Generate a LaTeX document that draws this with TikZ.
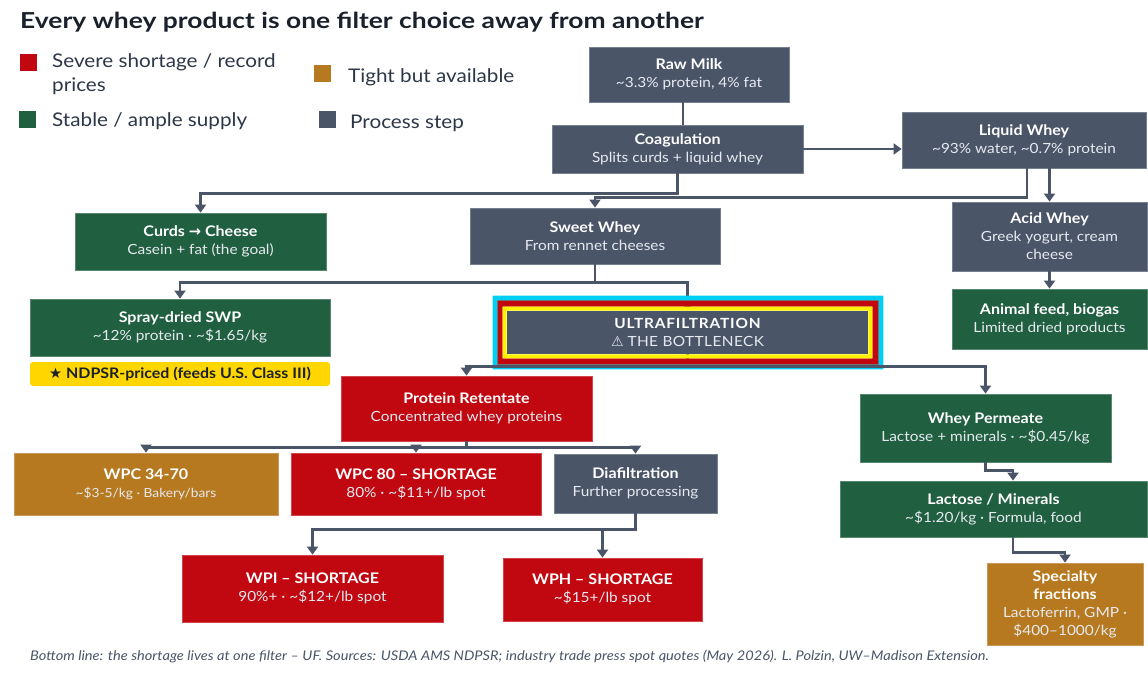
\documentclass[tikz,border=0pt]{standalone}
\usepackage{fontspec}
\setmainfont{Lato}[FakeStretch=1.1]
\newfontfamily\titlef{Lato}[FakeStretch=1.2]
\newfontfamily\symf{DejaVu Sans}
\usetikzlibrary{arrows.meta}
\definecolor{cproc}{HTML}{4A5568}
\definecolor{cgood}{HTML}{205F40}
\definecolor{cbad}{HTML}{C1070F}
\definecolor{ctight}{HTML}{B7791F}
\definecolor{cnote}{HTML}{FFD600}
\definecolor{ccyan}{HTML}{00CFF5}
\definecolor{cyel}{HTML}{FFF200}
\definecolor{cline}{HTML}{4A5568}
\definecolor{csub}{HTML}{E6EAF0}
\definecolor{ctitle}{HTML}{1A202C}
\definecolor{cleg}{HTML}{2D3748}
\definecolor{cfoot}{HTML}{4A5568}
\newcommand\tld{\textasciitilde}
\newcommand\bx[2]{{\fontsize{14.6}{18}\selectfont\bfseries\color{white}#1}\\#2}
\pgfdeclarelayer{under}
\pgfdeclarelayer{mid}
\pgfsetlayers{under,mid,main}
\tikzset{
  base/.style={rectangle, inner sep=0pt, align=center, text=csub,
    font=\fontsize{14}{18}\selectfont, line width=0.8pt},
  proc/.style={base, fill=cproc, draw=cproc!75!white},
  good/.style={base, fill=cgood, draw=cgood!75!white},
  bad/.style={base, fill=cbad, draw=cbad!75!white},
  tight/.style={base, fill=ctight, draw=ctight!75!white},
  note/.style={rectangle, rounded corners=3pt, inner sep=0pt, fill=cnote,
    text=ctitle, font=\fontsize{14.5}{18}\selectfont\bfseries},
  sq/.style={rectangle, inner sep=0pt, minimum size=17pt},
  legtxt/.style={anchor=west, align=left, inner sep=0pt, text=cleg, font=\fontsize{18.8}{24}\selectfont},
  conn/.style={draw=cline, line width=2.4pt},
  arr/.style={conn, -{Triangle[width=11pt,length=8pt]}},
}
\begin{document}
\begin{tikzpicture}[x=1pt,y=-1pt]
\useasboundingbox (0,0) rectangle (1148,676);
\begin{pgfonlayer}{under}
\fill[white] (0,0) rectangle (1148,676);
\end{pgfonlayer}

% title and legend
\node[anchor=west, inner sep=0pt, font=\fontsize{22}{26}\titlef\bfseries, text=ctitle] (title) at (20,22)
  {Every whey product is one filter choice away from another};
\node[sq, fill=cbad] (lg1) at (28.5,62.5) {};
\node[legtxt] (lt1) at (52,74) {Severe shortage / record\\prices};
\node[sq, fill=ctight] (lg2) at (322,73.5) {};
\node[legtxt] (lt2) at (348,77) {Tight but available};
\node[sq, fill=cgood] (lg3) at (27,120) {};
\node[legtxt] (lt3) at (52,121) {Stable / ample supply};
\node[sq, fill=cproc] (lg4) at (327,119.5) {};
\node[legtxt] (lt4) at (350,123) {Process step};

% nodes
\node[proc, minimum width=200pt, minimum height=55pt] (raw) at (689,74.5)
  {\bx{Raw Milk}{\tld3.3\% protein, 4\% fat}};
\node[proc, minimum width=251pt, minimum height=48pt] (coag) at (677.5,149)
  {\bx{Coagulation}{Splits curds + liquid whey}};
\node[proc, minimum width=244pt, minimum height=56pt] (lw) at (1024,140)
  {\bx{Liquid Whey}{\tld93\% water, \tld0.7\% protein}};
\node[good, minimum width=251pt, minimum height=57pt] (curds) at (200.5,241.5)
  {\bx{Curds {\symf →} Cheese}{Casein + fat (the goal)}};
\node[proc, minimum width=250pt, minimum height=56pt] (sweet) at (595,236)
  {\bx{Sweet Whey}{From rennet cheeses}};
\node[proc, minimum width=195pt, minimum height=69pt] (acid) at (1049.5,236.5)
  {\bx{Acid Whey}{Greek yogurt, cream\\cheese}};
\node[good, minimum width=300pt, minimum height=57pt] (swp) at (180,327.5)
  {\bx{Spray-dried SWP}{\tld12\% protein · \tld\$1.65/kg}};
\node[note, minimum width=300pt, minimum height=24pt] (ndpsr) at (180,374)
  {{\symf\bfseries ★} NDPSR-priced (feeds U.S. Class III)};
\node[proc, minimum width=361pt, minimum height=43pt, draw=none] (uf) at (687.5,332.5)
  {{\bfseries\color{white}\addfontfeatures{LetterSpace=6}ULTRAFILTRATION}\\{\symf ⚠} {\addfontfeatures{LetterSpace=3}THE BOTTLENECK}};
\node[good, minimum width=195pt, minimum height=60pt] (feed) at (1049.5,319)
  {\bx{Animal feed, biogas}{Limited dried products}};
\node[bad, minimum width=251pt, minimum height=65pt] (pr) at (466.5,408.5)
  {\bx{Protein Retentate}{Concentrated whey proteins}};
\node[good, minimum width=251pt, minimum height=68pt] (wp) at (985.5,428)
  {\bx{Whey Permeate}{Lactose + minerals · \tld\$0.45/kg}};
\node[tight, minimum width=264pt, minimum height=62pt] (wpc34) at (146,484)
  {\bx{WPC 34-70}{{\fontsize{12.5}{18}\selectfont\tld\$3-5/kg · Bakery/bars}}};
\node[bad, minimum width=250pt, minimum height=62pt] (wpc80) at (416,484)
  {\bx{WPC 80 – SHORTAGE}{80\% · \tld\$11+/lb spot}};
\node[proc, minimum width=163pt, minimum height=59pt] (dia) at (635.5,483.5)
  {\bx{Diafiltration}{Further processing}};
\node[good, minimum width=307pt, minimum height=56pt] (lact) at (993.5,509)
  {\bx{Lactose / Minerals}{\tld\$1.20/kg · Formula, food}};
\node[bad, minimum width=261pt, minimum height=67pt] (wpi) at (312.5,588.5)
  {\bx{WPI – SHORTAGE}{90\%+ · \tld\$12+/lb spot}};
\node[bad, minimum width=199pt, minimum height=63pt] (wph) at (602.5,589.5)
  {\bx{WPH – SHORTAGE}{\tld\$15+/lb spot}};
\node[tight, minimum width=156pt, minimum height=82pt] (spec) at (1065,604)
  {{\fontsize{14.6}{18}\selectfont\bfseries\color{white}Specialty}\\{\fontsize{14.6}{18}\selectfont\bfseries\color{white}fractions}\\Lactoferrin, GMP ·\\\$400–1000/kg};

\node[anchor=west, inner sep=0pt, font=\fontsize{13.3}{15}\selectfont\itshape, text=cfoot] (foot) at (30,657)
  {Bottom line: the shortage lives at one filter – UF. Sources: USDA AMS NDPSR; industry trade press spot quotes (May 2026). L. Polzin, UW–Madison Extension.};

% connectors hidden under the bottleneck frame
\begin{pgfonlayer}{under}
\draw[arr] (sweet.south) -- ++(0,18) -| (uf.north);
\coordinate (ufb) at ([yshift=-12pt]uf.south);
\draw[conn] (uf.south) -- (ufb);
\end{pgfonlayer}

% bottleneck frames
\begin{pgfonlayer}{mid}
\fill[ccyan, even odd rule]
  ([shift={(-14,-15)}]uf.north west) rectangle ([shift={(15,15)}]uf.south east)
  ([shift={(-9,-10)}]uf.north west) rectangle ([shift={(10,10)}]uf.south east);
\fill[cbad, even odd rule]
  ([shift={(-9,-10)}]uf.north west) rectangle ([shift={(10,10)}]uf.south east)
  ([shift={(-4,-4)}]uf.north west) rectangle ([shift={(4,4)}]uf.south east);
\draw[black!55, line width=0.6pt]
  ([shift={(-9,-10)}]uf.north west) rectangle ([shift={(10,10)}]uf.south east);
\fill[cyel, even odd rule]
  ([shift={(-4,-4)}]uf.north west) rectangle ([shift={(4,4)}]uf.south east)
  (uf.north west) rectangle (uf.south east);
\end{pgfonlayer}

% connectors
\draw[conn] ([xshift=-6pt]raw.south) -- ([xshift=-6pt]raw.south |- coag.north);
\draw[arr] (coag.east) -- (coag.east -| lw.west);
\draw[arr] (coag.south) -- ++(0,20) -| (curds.north);
\draw[arr] ([xshift=3pt]lw.south) -- ++(0,29) -| (sweet.north);
\draw[arr] (acid.north |- lw.south) -- (acid.north);
\draw[arr] (acid.south) -- (feed.north);
\draw[arr] (sweet.south) -- ++(0,18) -| (swp.north);
\draw[arr] (ufb) -| (pr.north);
\draw[arr] (ufb) -| (wp.north);
\draw[arr] (pr.south) -- ++(0,6) -| (wpc34.north);
\draw[arr] (pr.south) -- ++(0,6) -| (wpc80.north);
\draw[arr] (pr.south) -- ++(0,6) -| (dia.north);
\draw[arr] (dia.south) -- ++(0,16) -| (wpi.north);
\draw[arr] (dia.south) -- ++(0,16) -| (wph.north);
\draw[arr] (wp.south) -- ++(0,8) -| ([xshift=19.5pt]lact.north);
\draw[arr] ([xshift=19.5pt]lact.south) -- ++(0,15) -| (spec.north);
\end{tikzpicture}
\end{document}
